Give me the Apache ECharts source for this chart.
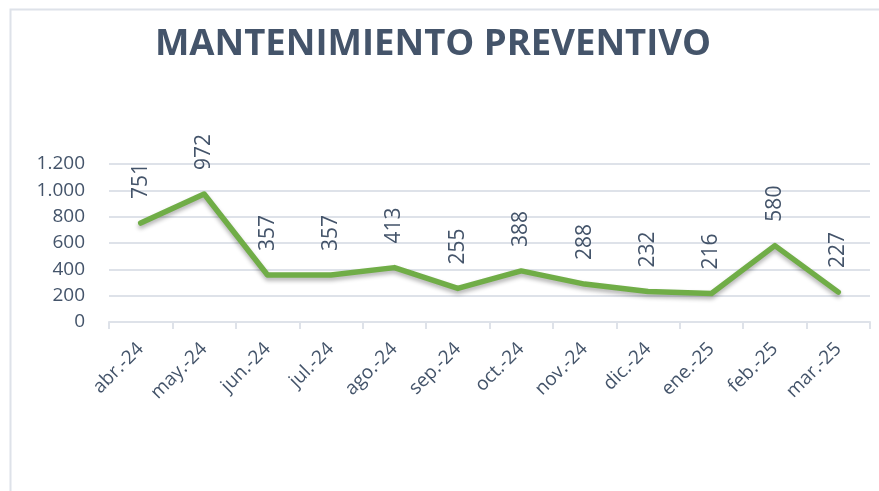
<!DOCTYPE html>
<html>
<head>
<meta charset="utf-8">
<script src="https://cdn.jsdelivr.net/npm/echarts@6/dist/echarts.min.js"></script>
<style>html,body{margin:0;padding:0;background:#fff}#c{width:879px;height:491px}</style>
</head>
<body>
<div id="c"></div>
<script>
var titleText = 'MANTENIMIENTO PREVENTIVO';
var categories = ['abr.-24','may.-24','jun.-24','jul.-24','ago.-24','sep.-24','oct.-24','nov.-24','dic.-24','ene.-25','feb.-25','mar.-25'];
var values = [751, 972, 357, 357, 413, 255, 388, 288, 232, 216, 580, 227];
var yMin = 0, yMax = 1200, yStep = 200;

function fmtThousands(v){
  return String(v).replace(/\B(?=(\d{3})+(?!\d))/g, '.');
}

var textColor = '#44546A';
var gridColor = '#DEE2E9';
var chart = echarts.init(document.getElementById('c'), null, {renderer:'canvas'});
chart.setOption({
  animation: false,
  backgroundColor: '#fff',
  graphic: [{
    type: 'rect', left: 8, top: 7, shape: {width: 900, height: 500},
    style: {fill: 'none', stroke: '#DEE2E9', lineWidth: 2}, silent: true, z: -1
  }],
  title: {
    text: titleText, left: 428, top: 21, textAlign: 'center',
    textStyle: {fontFamily: 'Open Sans', fontWeight: 'bold', fontSize: 36.5, color: textColor}
  },
  grid: {left: 109, right: 9, top: 164, bottom: 169, containLabel: false},
  xAxis: {
    type: 'category', data: categories, boundaryGap: true,
    axisLine: {lineStyle: {color: gridColor, width: 2}},
    axisTick: {show: true, length: 7, lineStyle: {color: gridColor, width: 2}},
    axisLabel: {rotate: 45, margin: 24, fontFamily: 'Open Sans', fontSize: 19, color: textColor, interval: 0}
  },
  yAxis: {
    type: 'value', min: yMin, max: yMax, interval: yStep,
    axisLine: {show: false}, axisTick: {show: false},
    splitLine: {lineStyle: {color: gridColor, width: 2}},
    axisLabel: {fontFamily: 'Open Sans', fontSize: 19, color: textColor, margin: 24, formatter: fmtThousands}
  },
  series: [{
    type: 'line', data: values, symbol: 'circle', symbolSize: 2, showSymbol: true, showAllSymbol: true,
    itemStyle: {color: '#70AD47', borderWidth: 0},
    lineStyle: {color: '#70AD47', width: 5.5, cap: 'round', join: 'round',
      shadowColor: 'rgba(0,0,0,0.3)', shadowBlur: 4, shadowOffsetY: 3},
    label: {show: true, position: 'top', rotate: 90, align: 'left', verticalAlign: 'middle', distance: 23,
      fontFamily: 'Open Sans', fontSize: 21, color: textColor,
      formatter: function(p){return fmtThousands(p.value);}}
  }]
});
</script>
</body>
</html>
